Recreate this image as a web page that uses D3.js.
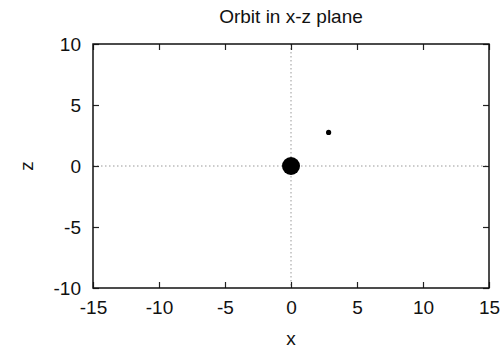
<!DOCTYPE html>
<html><head><meta charset="utf-8">
<script src="https://cdn.jsdelivr.net/npm/d3@7"></script>
<style>body{margin:0;background:#fff}text{font-family:"Liberation Sans",Arial,sans-serif;fill:#111}</style>
</head><body>
<svg id="c" width="504" height="348"></svg>
<script>
const xTicks=[-15,-10,-5,0,5,10,15];
const zTicks=[-10,-5,0,5,10];
const bodyX=[0,2.85];
const bodyZ=[0,2.75];
const bodySize=[9,2.6];
const title="Orbit in x-z plane";

const svg=d3.select("#c");
const L=93,R=489,T=44,B=288;
const FS="19px";
const x=d3.scaleLinear().domain([-15,15]).range([L,R]);
const y=d3.scaleLinear().domain([-10,10]).range([B,T]);
const fmt=d=>String(d);

// zero axes dotted
svg.append("line").attr("x1",x(0)).attr("x2",x(0)).attr("y1",T).attr("y2",B).attr("stroke","#999").attr("stroke-dasharray","1.5,2.5");
svg.append("line").attr("x1",L).attr("x2",R).attr("y1",y(0)).attr("y2",y(0)).attr("stroke","#999").attr("stroke-dasharray","1.5,2.5");

const tl=6;
const gx=svg.append("g").attr("transform",`translate(0,${B})`).call(d3.axisBottom(x).tickValues(xTicks).tickSizeInner(-tl).tickSizeOuter(0).tickPadding(13).tickFormat(fmt));
const gxt=svg.append("g").attr("transform",`translate(0,${T})`).call(d3.axisTop(x).tickValues(xTicks).tickSizeInner(-tl).tickSizeOuter(0).tickFormat(""));
const gy=svg.append("g").attr("transform",`translate(${L},0)`).call(d3.axisLeft(y).tickValues(zTicks).tickSizeInner(-tl).tickSizeOuter(0).tickPadding(12).tickFormat(fmt));
const gyr=svg.append("g").attr("transform",`translate(${R},0)`).call(d3.axisRight(y).tickValues(zTicks).tickSizeInner(-tl).tickSizeOuter(0).tickFormat(""));
[gx,gxt,gy,gyr].forEach(g=>{g.select(".domain").remove();g.selectAll("line").attr("stroke","#222").attr("stroke-width",1.2);
 g.selectAll("text").style("font-size",FS).style("font-family","'Liberation Sans',Arial,sans-serif").attr("fill","#111");});

svg.append("rect").attr("x",L).attr("y",T).attr("width",R-L).attr("height",B-T).attr("fill","none").attr("stroke","#111").attr("stroke-width",1.5);

svg.selectAll("circle.b").data(bodyX).enter().append("circle").attr("class","b")
 .attr("cx",(d,i)=>x(d)).attr("cy",(d,i)=>y(bodyZ[i])).attr("r",(d,i)=>bodySize[i]).attr("fill","#000");

svg.append("text").attr("x",291).attr("y",23).attr("text-anchor","middle").style("font-size",FS).text(title);
svg.append("text").attr("x",291).attr("y",345).attr("text-anchor","middle").style("font-size",FS).text("x");
svg.append("text").attr("transform",`translate(26,${y(0)}) rotate(-90)`).attr("text-anchor","middle").attr("dy","0.35em").style("font-size",FS).text("z");
</script>
</body></html>
